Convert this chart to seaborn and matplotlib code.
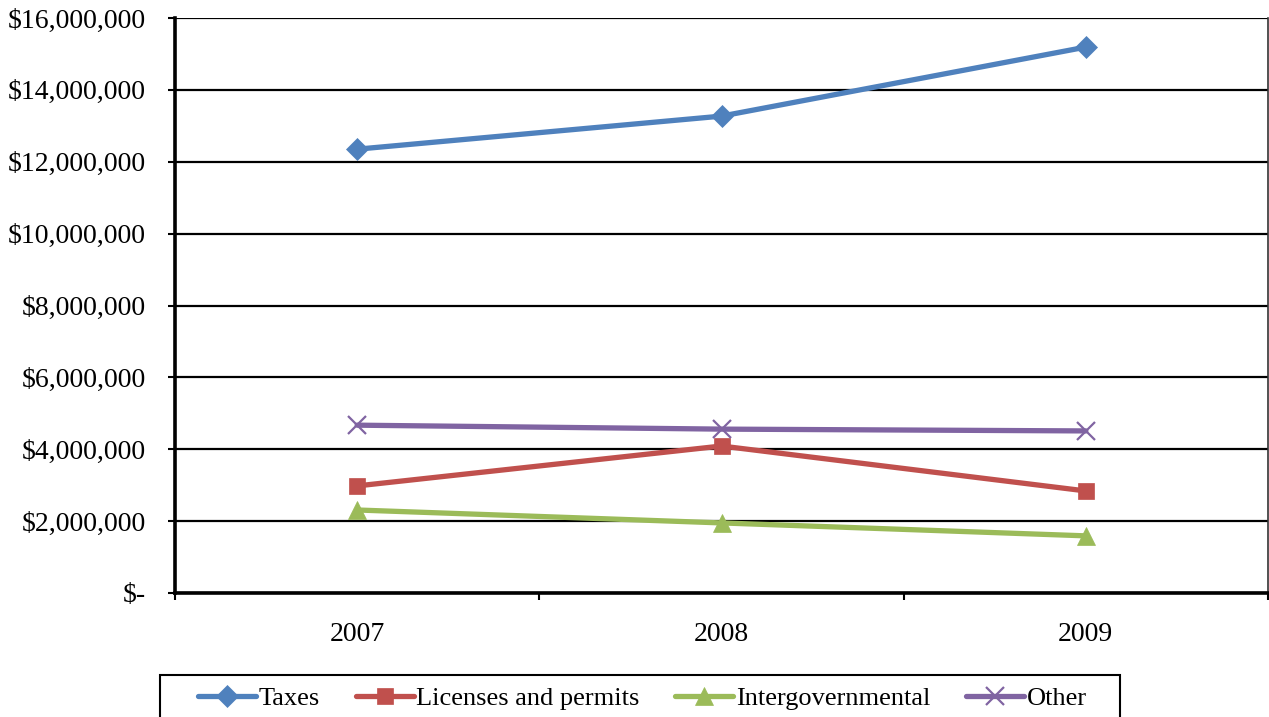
import matplotlib
matplotlib.use("Agg")
import matplotlib.pyplot as plt
from matplotlib.ticker import FuncFormatter, FixedLocator
from matplotlib.patches import Rectangle
import seaborn as sns
import pandas as pd

# Revenue by source, fiscal years 2007-2009
years = ["2007", "2008", "2009"]
taxes = [12_350_000, 13_270_000, 15_190_000]
licenses_permits = [2_980_000, 4_090_000, 2_840_000]
intergovernmental = [2_310_000, 1_950_000, 1_590_000]
other = [4_670_000, 4_560_000, 4_510_000]

series_names = ["Taxes", "Licenses and permits", "Intergovernmental", "Other"]
series_values = [taxes, licenses_permits, intergovernmental, other]
colors = ["#4F81BD", "#C0504D", "#9BBB59", "#8064A2"]
markers = ["D", "s", "^", "x"]
marker_sizes = [11.5, 11.5, 12.5, 13]

W, H = 1269, 717

sns.set_theme(style="white")
plt.rcParams["font.family"] = ["Liberation Serif", "DejaVu Serif"]

fig = plt.figure(figsize=(W / 100, H / 100), dpi=100)
ax = fig.add_axes([175 / W, 124 / H, 1093 / W, 575 / H])

for name, vals, c, m, ms in zip(series_names, series_values, colors, markers, marker_sizes):
    df = pd.DataFrame({"pos": range(len(years)), "value": vals})
    sns.lineplot(
        data=df, x="pos", y="value", ax=ax, color=c, linewidth=3.8,
        marker=m, markersize=ms, markeredgecolor=c,
        markeredgewidth=1.6 if m == "x" else 0.5, label=name,
    )

ax.set_xlim(-0.5, len(years) - 0.5)
ax.set_ylim(0, 16_000_000)
ax.set_xlabel("")
ax.set_ylabel("")

# Category boundaries carry the tick marks; labels sit at the category centres
ax.xaxis.set_major_locator(FixedLocator([i - 0.5 for i in range(len(years) + 1)]))
ax.xaxis.set_major_formatter(FuncFormatter(lambda v, p: ""))
ax.xaxis.set_minor_locator(FixedLocator(list(range(len(years)))))
ax.set_xticklabels(years, minor=True)
ax.tick_params(axis="x", which="major", direction="out", length=5, width=1.5,
               color="black", bottom=True)
ax.tick_params(axis="x", which="minor", length=0, pad=21, labelsize=20,
               labelcolor="black", bottom=True)

ax.set_yticks(range(0, 16_000_001, 2_000_000))
ax.yaxis.set_major_formatter(
    FuncFormatter(lambda v, p: "$-" if v == 0 else f"${v:,.0f}")
)
ax.tick_params(axis="y", direction="out", length=5, width=1.5, color="black",
               left=True, pad=16, labelsize=20, labelcolor="black")

ax.grid(axis="y", color="black", linewidth=1.6)
ax.grid(axis="x", visible=False)
ax.set_axisbelow(True)

for side in ["left", "bottom"]:
    ax.spines[side].set_color("black")
    ax.spines[side].set_linewidth(2.6)
ax.spines["right"].set_color("#333333")
ax.spines["right"].set_linewidth(1.2)
ax.spines["top"].set_visible(False)

# Legend box runs off the bottom edge of the figure
ax.legend_.remove()
fig.patches.append(Rectangle((160 / W, -0.02), 960 / W, 1 - 675 / H + 0.02,
                             transform=fig.transFigure, fill=False,
                             edgecolor="black", linewidth=1.5))
handles, labels = ax.get_legend_handles_labels()
leg = fig.legend(
    handles, labels, loc="center left", bbox_to_anchor=(198 / W, 1 - 698 / H),
    ncol=4, frameon=False, fontsize=19, handlelength=2.2,
    columnspacing=1.35, handletextpad=0.1, borderpad=0, borderaxespad=0,
)
for t in leg.get_texts():
    t.set_color("black")

fig.savefig("out.png", dpi=100, facecolor="white")
